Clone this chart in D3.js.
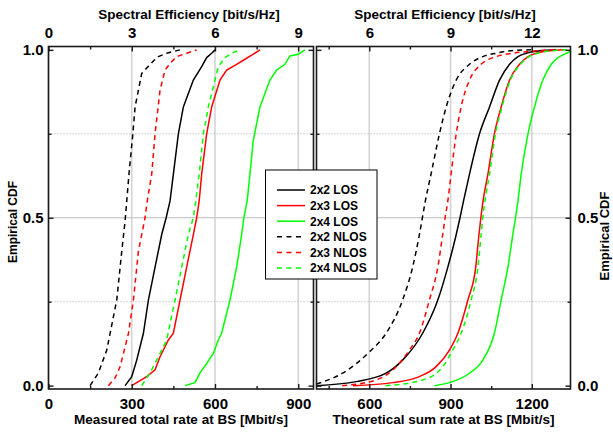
<!DOCTYPE html>
<html>
<head>
<meta charset="utf-8">
<script src="https://cdn.jsdelivr.net/npm/d3@7"></script>
<style>
  body { margin: 0; background: #fff; }
  svg text { font-family: "Liberation Sans", Arial, sans-serif; font-weight: bold; fill: #000; }
</style>
</head>
<body>
<svg id="chart" width="613" height="432"></svg>
<script>
// series labels and styles (legend order)
var seriesNames = ["2x2 LOS", "2x3 LOS", "2x4 LOS", "2x2 NLOS", "2x3 NLOS", "2x4 NLOS"];
var seriesColors = ["#000000", "#ff0000", "#00ff00", "#000000", "#ff0000", "#00ff00"];
var seriesDashed = [false, false, false, true, true, true];

// measured CDFs, [rate Mbit/s, cdf]
var meas2x2LOS = [[276,0],[300,0.027],[318,0.076],[342,0.156],[360,0.255],[384,0.353],[408,0.45],[424,0.50],[438,0.55],[450,0.63],[468,0.75],[486,0.83],[522,0.91],[552,0.95],[570,0.977],[588,0.99],[600,1.0]];
var meas2x3LOS = [[300,0],[354,0.027],[384,0.047],[402,0.086],[432,0.136],[450,0.156],[474,0.255],[498,0.353],[522,0.45],[534,0.50],[543,0.55],[552,0.63],[570,0.75],[588,0.83],[618,0.91],[642,0.94],[678,0.957],[708,0.972],[738,0.987],[762,1.0]];
var meas2x4LOS = [[492,0],[528,0.009],[546,0.038],[570,0.066],[594,0.096],[612,0.136],[624,0.156],[654,0.255],[678,0.353],[696,0.45],[704,0.50],[716,0.55],[726,0.63],[738,0.73],[762,0.83],[798,0.91],[822,0.94],[852,0.957],[870,0.982],[900,0.987],[924,1.0]];
var meas2x2NLOS = [[150,0],[180,0.038],[210,0.106],[246,0.255],[264,0.40],[276,0.49],[282,0.55],[290,0.63],[304,0.75],[312,0.83],[336,0.93],[378,0.967],[396,0.98],[426,0.99],[474,1.0]];
var meas2x3NLOS = [[216,0],[240,0.023],[258,0.056],[288,0.155],[306,0.255],[324,0.40],[348,0.50],[354,0.54],[372,0.63],[384,0.75],[402,0.88],[420,0.94],[438,0.96],[462,0.98],[498,0.99],[534,1.0]];
var meas2x4NLOS = [[336,0],[366,0.038],[396,0.086],[426,0.136],[456,0.255],[480,0.353],[504,0.45],[522,0.50],[531,0.55],[543,0.63],[558,0.75],[576,0.83],[600,0.91],[612,0.95],[636,0.977],[660,0.99],[690,1.0]];

// theoretical CDFs, [rate Mbit/s, cdf]
var theo2x2LOS = [[405,0.0],[551,0.012],[662,0.037],[723,0.076],[797,0.156],[853,0.255],[890,0.353],[921,0.45],[935,0.50],[948,0.55],[970,0.63],[1007,0.75],[1044,0.83],[1081,0.91],[1118,0.957],[1149,0.98],[1180,0.99],[1229,0.997],[1290,1.0]];
var theo2x3LOS = [[540,0],[686,0.009],[785,0.027],[846,0.056],[896,0.106],[927,0.156],[964,0.255],[993,0.353],[1005,0.45],[1012,0.50],[1020,0.55],[1038,0.63],[1062,0.75],[1087,0.83],[1118,0.91],[1155,0.957],[1186,0.98],[1217,0.99],[1266,0.997],[1320,1.0]];
var theo2x4LOS = [[840,0],[896,0.009],[970,0.037],[1019,0.076],[1062,0.156],[1087,0.255],[1112,0.353],[1130,0.45],[1140,0.50],[1149,0.55],[1161,0.63],[1186,0.75],[1210,0.83],[1241,0.91],[1272,0.957],[1303,0.98],[1328,0.99],[1343,0.995]];
var theo2x2NLOS = [[405,0.005],[501,0.037],[600,0.10],[662,0.156],[723,0.255],[760,0.353],[785,0.45],[796,0.50],[807,0.55],[828,0.63],[859,0.75],[884,0.83],[921,0.91],[970,0.957],[1019,0.98],[1069,0.99],[1118,0.997],[1200,1.0]];
var theo2x3NLOS = [[500,0],[625,0.017],[699,0.056],[748,0.106],[785,0.156],[822,0.255],[853,0.353],[871,0.45],[880,0.50],[890,0.55],[902,0.63],[921,0.75],[939,0.83],[970,0.91],[1013,0.957],[1069,0.98],[1130,0.99],[1217,0.997],[1280,1.0]];
var theo2x4NLOS = [[660,0],[797,0.017],[871,0.056],[908,0.106],[939,0.156],[976,0.255],[1001,0.353],[1013,0.45],[1019,0.50],[1027,0.55],[1044,0.63],[1066,0.75],[1090,0.83],[1121,0.91],[1158,0.957],[1190,0.98],[1222,0.99],[1270,0.997],[1330,1.0]];

var measSeries = [meas2x2LOS, meas2x3LOS, meas2x4LOS, meas2x2NLOS, meas2x3NLOS, meas2x4NLOS];
var theoSeries = [theo2x2LOS, theo2x3LOS, theo2x4LOS, theo2x2NLOS, theo2x3NLOS, theo2x4NLOS];

// ticks
var leftRateTicks = [0, 300, 600, 900];
var leftRateMinor = [150, 450, 750];
var rightRateTicks = [600, 900, 1200];
var rightRateMinor = [450, 750, 1050];
var leftSeTicks = [0, 3, 6, 9];
var rightSeTicks = [6, 9, 12];
var cdfTicks = [0, 0.5, 1];
var cdfMinor = [0.25, 0.75];

(function() {
var svg = d3.select("#chart");

var plotTop = 46.5, plotBottom = 389;
var y = d3.scaleLinear().domain([-0.01, 1.01]).range([plotBottom, plotTop]);

var panels = [
  { x0: 48.5, x1: 313.5, dom: [0, 955], ticks: leftRateTicks, minor: leftRateMinor, se: leftSeTicks,
    data: measSeries, curve: d3.curveLinear, title: "Measured total rate at BS [Mbit/s]", seTitleX: 189 },
  { x0: 316.5, x1: 570.5, dom: [405, 1343], ticks: rightRateTicks, minor: rightRateMinor, se: rightSeTicks,
    data: theoSeries, curve: d3.curveMonotoneX, title: "Theoretical sum rate at BS [Mbit/s]", seTitleX: 445 }
];

panels.forEach(function(p, pi) {
  var x = d3.scaleLinear().domain(p.dom).range([p.x0, p.x1]);
  var se = d3.scaleLinear().domain([p.dom[0] / 100, p.dom[1] / 100]).range([p.x0, p.x1]);
  var g = svg.append("g");

  // grid
  g.selectAll(".vg").data(p.ticks).enter().append("line")
    .attr("x1", function(d) { return x(d); }).attr("x2", function(d) { return x(d); })
    .attr("y1", plotTop).attr("y2", plotBottom)
    .attr("stroke", "#d4d4d4").attr("stroke-width", 1.6);
  g.append("line")
    .attr("x1", p.x0).attr("x2", p.x1).attr("y1", y(0.5)).attr("y2", y(0.5))
    .attr("stroke", "#bbbbbb").attr("stroke-width", 1);
  g.selectAll(".hg").data(cdfMinor).enter().append("line")
    .attr("x1", p.x0).attr("x2", p.x1)
    .attr("y1", function(d) { return y(d); }).attr("y2", function(d) { return y(d); })
    .attr("stroke", "#aaaaaa").attr("stroke-width", 1).attr("stroke-dasharray", "1,2");

  // curves
  var clipId = "clip" + pi;
  svg.append("clipPath").attr("id", clipId).append("rect")
    .attr("x", p.x0).attr("y", plotTop).attr("width", p.x1 - p.x0).attr("height", plotBottom - plotTop);

  var line = d3.line()
    .x(function(d) { return x(d[0]); })
    .y(function(d) { return y(d[1]); })
    .curve(p.curve);

  g.append("g").attr("clip-path", "url(#" + clipId + ")")
    .selectAll("path").data(p.data).enter().append("path")
    .attr("d", line)
    .attr("fill", "none")
    .attr("stroke", function(d, i) { return seriesColors[i]; })
    .attr("stroke-width", 1.5)
    .attr("stroke-dasharray", function(d, i) { return seriesDashed[i] ? "5,4" : null; });

  // axes, ticks point inward
  g.append("g").attr("transform", "translate(0," + plotBottom + ")")
    .call(d3.axisBottom(x).tickValues(p.ticks).tickSizeInner(-5).tickSizeOuter(0).tickPadding(9).tickFormat(d3.format("d")));
  g.append("g").attr("transform", "translate(0," + plotBottom + ")")
    .call(d3.axisBottom(x).tickValues(p.minor).tickSizeInner(-3).tickSizeOuter(0).tickFormat(""));
  g.append("g").attr("transform", "translate(0," + plotTop + ")")
    .call(d3.axisTop(se).tickValues(p.se).tickSizeInner(-5).tickSizeOuter(0).tickPadding(9).tickFormat(d3.format("d")));
  g.append("g").attr("transform", "translate(0," + plotTop + ")")
    .call(d3.axisTop(x).tickValues(p.minor).tickSizeInner(-3).tickSizeOuter(0).tickFormat(""));

  var fmt = d3.format(".1f");
  var leftAx = d3.axisLeft(y).tickValues(cdfTicks).tickSizeInner(-5).tickSizeOuter(0).tickPadding(5).tickFormat(pi === 0 ? fmt : "");
  var rightAx = d3.axisRight(y).tickValues(cdfTicks).tickSizeInner(-5).tickSizeOuter(0).tickPadding(7).tickFormat(pi === 1 ? fmt : "");
  g.append("g").attr("transform", "translate(" + p.x0 + ",0)").call(leftAx);
  g.append("g").attr("transform", "translate(" + p.x1 + ",0)").call(rightAx);
  g.append("g").attr("transform", "translate(" + p.x0 + ",0)")
    .call(d3.axisLeft(y).tickValues(cdfMinor).tickSizeInner(-3).tickSizeOuter(0).tickFormat(""));
  g.append("g").attr("transform", "translate(" + p.x1 + ",0)")
    .call(d3.axisRight(y).tickValues(cdfMinor).tickSizeInner(-3).tickSizeOuter(0).tickFormat(""));

  // frame
  g.append("rect").attr("x", p.x0).attr("y", plotTop).attr("width", p.x1 - p.x0).attr("height", plotBottom - plotTop)
    .attr("fill", "none").attr("stroke", "#1a1a1a").attr("stroke-width", 1.6);

  // titles
  g.append("text").attr("x", (p.x0 + p.x1) / 2).attr("y", 424).attr("text-anchor", "middle")
    .style("font-size", "13.5px").text(p.title);
  g.append("text").attr("x", p.seTitleX).attr("y", 18.5).attr("text-anchor", "middle")
    .style("font-size", "13.5px").text("Spectral Efficiency [bit/s/Hz]");
});

svg.selectAll(".domain").remove();
svg.selectAll(".tick line").attr("stroke", "#1a1a1a").attr("stroke-width", 1.4);
svg.selectAll(".tick text").style("font-size", "15px").attr("fill", "#000");

// y titles
svg.append("text").attr("transform", "translate(17,222) rotate(-90)").attr("text-anchor", "middle")
  .style("font-size", "12px").text("Empirical CDF");
svg.append("text").attr("transform", "translate(609,236) rotate(-90)").attr("text-anchor", "middle")
  .style("font-size", "13px").text("Empirical CDF");

// legend
var lg = svg.append("g");
lg.append("rect").attr("x", 265.5).attr("y", 170).attr("width", 111.5).attr("height", 109)
  .attr("fill", "#fff").attr("stroke", "#000").attr("stroke-width", 1);
var items = lg.selectAll(".item").data(seriesNames).enter().append("g")
  .attr("transform", function(d, i) { return "translate(0," + (190 + i * 15.6) + ")"; });
items.append("line").attr("x1", 277).attr("x2", 305).attr("y1", 0).attr("y2", 0)
  .attr("stroke", function(d, i) { return seriesColors[i]; })
  .attr("stroke-width", 1.5)
  .attr("stroke-dasharray", function(d, i) { return seriesDashed[i] ? "5,4.5" : null; });
items.append("text").attr("x", 310).attr("y", 4.3).style("font-size", "12px").text(function(d) { return d; });
})();
</script>
</body>
</html>
